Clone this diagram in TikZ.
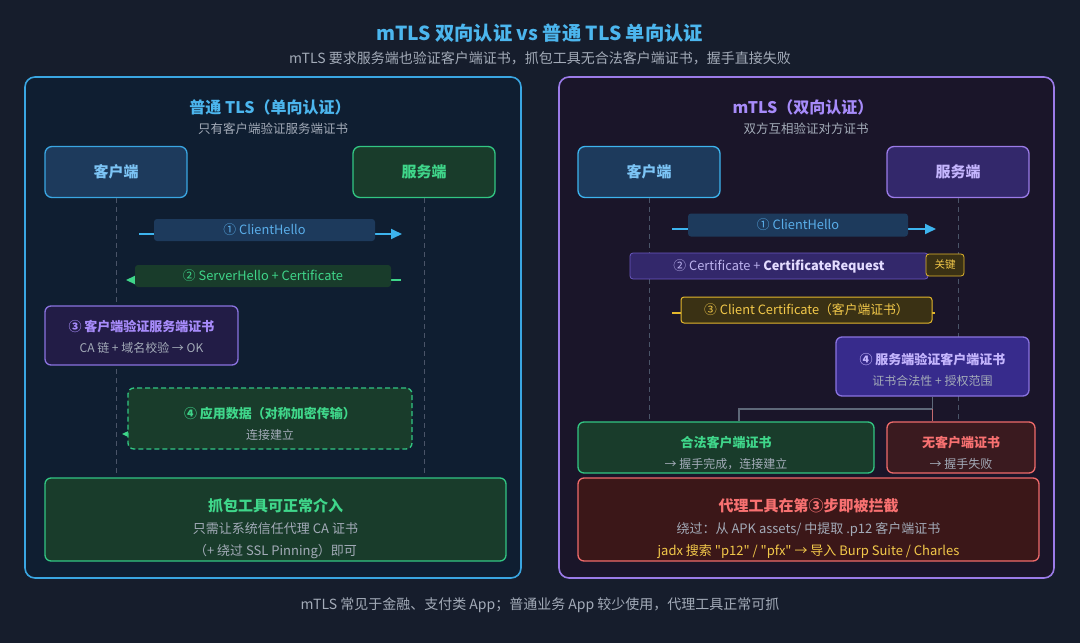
\documentclass[tikz,border=0pt]{standalone}
\usepackage{fontspec}
\setmainfont{Noto Sans CJK SC}[Ligatures=TeXOff]
\usepackage{tikz}
\usetikzlibrary{arrows.meta,positioning}
\definecolor{bg}{HTML}{161D2C}
\definecolor{grey}{HTML}{A3ABB8}
\definecolor{lifeC}{HTML}{4A5468}
\definecolor{cTitle}{HTML}{4CB6EE}
\definecolor{tlsB}{HTML}{3AA6E2}
\definecolor{tlsF}{HTML}{0F1E31}
\definecolor{mtlsB}{HTML}{9B7BE8}
\definecolor{mtlsF}{HTML}{1A1529}
\definecolor{cliF}{HTML}{1D3A5C}
\definecolor{cliT}{HTML}{7CC4F5}
\definecolor{cliA}{HTML}{3DB4EE}
\definecolor{barT}{HTML}{5AAEEA}
\definecolor{grnB}{HTML}{32C683}
\definecolor{grnF}{HTML}{193C2B}
\definecolor{grnT}{HTML}{3FD68A}
\definecolor{vioB}{HTML}{8A73E0}
\definecolor{vioF}{HTML}{221C46}
\definecolor{vioT}{HTML}{A78BFA}
\definecolor{purF}{HTML}{33286B}
\definecolor{purB}{HTML}{6A58C0}
\definecolor{purT}{HTML}{C4B5FD}
\definecolor{purH}{HTML}{E4DCFF}
\definecolor{chkF}{HTML}{372B8C}
\definecolor{ylwB}{HTML}{E3B72C}
\definecolor{ylwF}{HTML}{3A3114}
\definecolor{ylwT}{HTML}{F3C94A}
\definecolor{redB}{HTML}{EF6B6B}
\definecolor{redF}{HTML}{3A1A1F}
\definecolor{redT}{HTML}{F87171}
\definecolor{redW}{HTML}{3B1718}
\definecolor{brC}{HTML}{5E6878}
\tikzset{
  panel/.style={draw,line width=1.6pt,rounded corners=10pt},
  actor/.style={draw,line width=1.3pt,rounded corners=7pt,minimum width=142pt,minimum height=51pt,font=\fontsize{15}{18}\selectfont\bfseries},
  life/.style={draw=lifeC,line width=1pt,dash pattern=on 5pt off 4pt},
  bar/.style={rounded corners=3pt,inner sep=0pt,font=\fontsize{12.8}{15}\selectfont},
  msgline/.style={line width=1.8pt,-{Triangle[length=11pt,width=10pt]}},
  card/.style={draw,line width=1.3pt,rounded corners=6pt,inner sep=0pt},
  cardtxt/.style={align=center,inner sep=0pt,font=\fontsize{12}{21}\selectfont,text=grey},
  branch/.style={draw=brC,line width=1.3pt},
}

\begin{document}
\begin{tikzpicture}[x=1pt,y=-1pt]
  \fill[bg] (0,0) rectangle (1080,643);
  \useasboundingbox (0,0) rectangle (1080,643);
  \node[font=\fontsize{19.3}{22}\selectfont\bfseries,text=cTitle] (title) at (540,33) {mTLS 双向认证 vs 普通 TLS 单向认证};
  \node[font=\fontsize{14}{16}\selectfont,text=grey] (subtitle) at (540,58) {mTLS 要求服务端也验证客户端证书，抓包工具无合法客户端证书，握手直接失败};

  % ---- left: plain TLS ----
  \node[panel,draw=tlsB,fill=tlsF,minimum width=496pt,minimum height=501pt] (tlsPanel) at (273,327.5) {};
  \node[font=\fontsize{16}{19}\selectfont\bfseries,text=cTitle] (tlsHead) at (270,107) {普通 TLS（单向认证）};
  \node[font=\fontsize{12.5}{15}\selectfont,text=grey] (tlsSub) at (273,129) {只有客户端验证服务端证书};
  \node[actor,draw=tlsB,fill=cliF,text=cliT] (cliL) at (116,172) {客户端};
  \node[actor,draw=grnB,fill=grnF,text=grnT] (srvL) at (424,172) {服务端};
  \coordinate (endL) at (0,476);
  \draw[life] (cliL.south) -- (cliL.south |- endL);
  \draw[life] (srvL.south) -- (srvL.south |- endL);

  \coordinate (m1a) at (139,234); \coordinate (m1b) at (402,234);
  \draw[msgline,cliA] (m1a) -- (m1b);
  \node[bar,fill=cliF,text=barT,minimum width=221pt,minimum height=22pt] (helloL) at (264.5,230) {① ClientHello};
  \coordinate (m2a) at (401,280); \coordinate (m2b) at (126,280);
  \draw[msgline,grnT] (m2a) -- (m2b);
  \node[bar,fill=grnF,text=grnT,minimum width=256pt,minimum height=22pt] (certL) at (263,276) {② ServerHello + Certificate};

  \node[card,draw=vioB,fill=vioF,minimum width=193pt,minimum height=59pt] (chkL) at (141.5,335.5) {};
  \node[cardtxt] (chkLtxt) at ([yshift=-1pt]chkL.center)
    {\textcolor{vioT}{\fontsize{13}{21}\selectfont\bfseries ③ 客户端验证服务端证书}\\CA 链 + 域名校验 → OK};

  \coordinate (m4a) at (411,434); \coordinate (m4b) at (122,434);
  \draw[msgline,grnT] (m4a) -- (m4b);
  \node[card,draw=grnB,fill=grnF,dash pattern=on 5pt off 3pt,minimum width=284pt,minimum height=61pt] (dataL) at (270,418.5) {};
  \node[cardtxt] (dataLtxt) at ([yshift=-5pt]dataL.center)
    {\textcolor{grnT}{\fontsize{13}{21}\selectfont\bfseries ④ 应用数据（对称加密传输）}\\连接建立};

  \node[card,draw=grnB,fill=grnF,minimum width=461pt,minimum height=83pt] (okL) at (275.5,519.5) {};
  \node[cardtxt,font=\fontsize{13}{22}\selectfont] (okLtxt) at ([yshift=-9pt]okL.center)
    {\textcolor{grnT}{\fontsize{15}{22}\selectfont\bfseries 抓包工具可正常介入}\\只需让系统信任代理 CA 证书\\（+ 绕过 SSL Pinning）即可};

  % ---- right: mTLS ----
  \node[panel,draw=mtlsB,fill=mtlsF,minimum width=495pt,minimum height=501pt] (mtlsPanel) at (806.5,327.5) {};
  \node[font=\fontsize{16}{19}\selectfont\bfseries,text=vioT] (mtlsHead) at (803,107) {mTLS（双向认证）};
  \node[font=\fontsize{12.5}{15}\selectfont,text=grey] (mtlsSub) at (806,129) {双方互相验证对方证书};
  \node[actor,draw=cliA,fill=cliF,text=cliT] (cliR) at (649,172) {客户端};
  \node[actor,draw=mtlsB,fill=purF,text=purT] (srvR) at (958,172) {服务端};
  \draw[life] (cliR.south) -- (cliR.south |- endL);
  \draw[life] (srvR.south) -- (srvR.south |- endL);

  \coordinate (r1a) at (672,229); \coordinate (r1b) at (936,229);
  \draw[msgline,cliA] (r1a) -- (r1b);
  \node[bar,fill=cliF,text=barT,minimum width=220pt,minimum height=23pt] (helloR) at (798,225) {① ClientHello};
  \node[bar,draw=purB,line width=0.8pt,fill=purF,minimum width=298pt,minimum height=26pt] (certR) at (779,266)
    {\textcolor{purT!80!grey}{② Certificate + }\textcolor{purH}{\bfseries CertificateRequest}};
  \node[bar,draw=ylwB,line width=0.8pt,fill=ylwF,text=ylwT,minimum width=38pt,minimum height=22pt,font=\fontsize{10.5}{12}\selectfont] (keyR) at (945,265) {关键};

  \coordinate (r3a) at (672,313); \coordinate (r3b) at (935,313);
  \draw[ylwB,line width=1.8pt] (r3a) -- (r3b);
  \node[bar,draw=ylwB,line width=1pt,fill=ylwF,text=ylwT,minimum width=251pt,minimum height=26pt] (ccR) at (806.5,310)
    {③ Client Certificate（客户端证书）};

  \node[card,draw=vioB,fill=chkF,minimum width=193pt,minimum height=59pt] (chkR) at (932.5,366.5) {};
  \node[cardtxt] (chkRtxt) at ([yshift=-3pt]chkR.center)
    {\textcolor{purT}{\fontsize{13}{21}\selectfont\bfseries ④ 服务端验证客户端证书}\\证书合法性 + 授权范围};

  \node[card,draw=grnB,fill=grnF,minimum width=296pt,minimum height=51pt] (okR) at (726,447.5) {};
  \node[cardtxt] (okRtxt) at ([yshift=-5pt]okR.center)
    {\textcolor{grnT}{\fontsize{13}{21}\selectfont\bfseries 合法客户端证书}\\→ 握手完成，连接建立};
  \node[card,draw=redB,fill=redF,minimum width=148pt,minimum height=51pt] (noR) at (961,447.5) {};
  \node[cardtxt] (noRtxt) at ([yshift=-5pt]noR.center)
    {\textcolor{redT}{\fontsize{13}{21}\selectfont\bfseries 无客户端证书}\\→ 握手失败};
  \coordinate (brL) at (739,409);
  \draw[branch] (chkR.south) |- (brL) -- (brL |- okR.north);
  \draw[branch,draw=redB!70!brC] (chkR.south |- brL) -- (chkR.south |- noR.north);

  \node[card,draw=redB,fill=redW,minimum width=461pt,minimum height=83pt] (blockR) at (808.5,519.5) {};
  \node[cardtxt,font=\fontsize{13}{22}\selectfont] (blockRtxt) at ([yshift=-9pt]blockR.center)
    {\textcolor{redT}{\fontsize{15}{22}\selectfont\bfseries 代理工具在第③步即被拦截}\\绕过：从 APK assets/ 中提取 .p12 客户端证书\\\textcolor{ylwT}{jadx 搜索 "p12" / "pfx" → 导入 Burp Suite / Charles}};

  \node[font=\fontsize{14}{16}\selectfont,text=grey] (foot) at (540,605) {mTLS 常见于金融、支付类 App；普通业务 App 较少使用，代理工具正常可抓};
\end{tikzpicture}
\end{document}
